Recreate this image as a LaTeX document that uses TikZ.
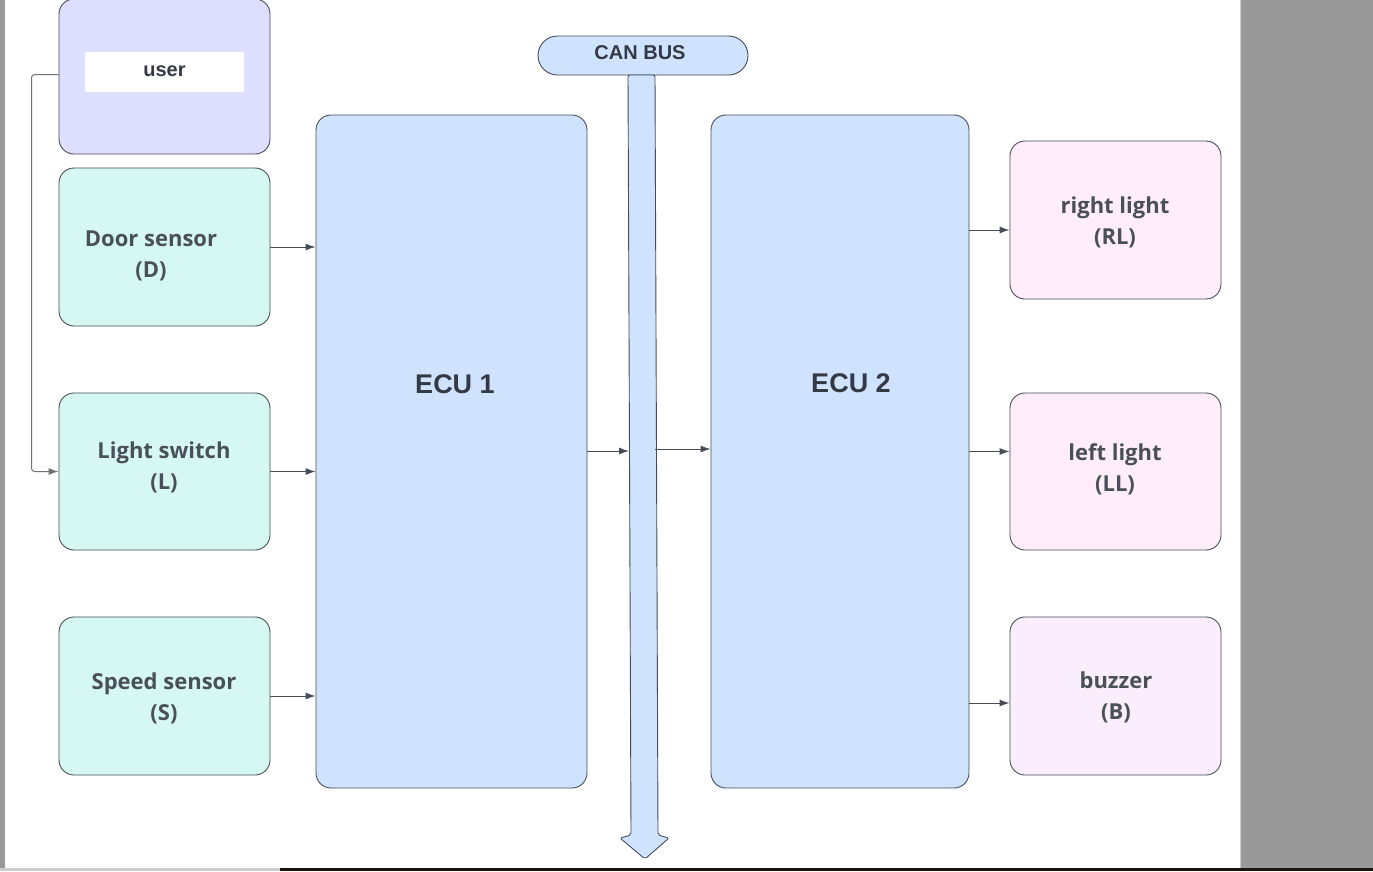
\documentclass[tikz,border=0pt]{standalone}
\usepackage{fontspec}
\setmainfont{Open Sans}
\newfontfamily\arialfont{Liberation Sans}
\usetikzlibrary{arrows.meta}
\definecolor{userfill}{HTML}{DEDEFF}
\definecolor{sensfill}{HTML}{D5F8F2}
\definecolor{ecufill}{HTML}{CFE2FE}
\definecolor{lampfill}{HTML}{FFEEFA}
\definecolor{buzzfill}{HTML}{FAEEFD}
\definecolor{edge}{HTML}{464D57}
\definecolor{txt}{HTML}{4A5058}
\definecolor{ecutxt}{HTML}{333A45}
\definecolor{pagegray}{HTML}{999999}
\begin{document}
\begin{tikzpicture}[x=1pt,y=-1pt]
    \tikzstyle{box}=[draw=edge, line width=0.9pt, rounded corners=15pt, inner sep=0pt, minimum width=211pt, minimum height=158pt]
    \tikzstyle{ecu}=[box, fill=ecufill, minimum height=673pt]
    \tikzstyle{lbl}=[text=txt, align=center, font=\bfseries\fontsize{22}{31}\selectfont]
    \tikzstyle{ecul}=[text=ecutxt, font=\arialfont\bfseries\fontsize{27}{30}\selectfont]
    \tikzstyle{marr}=[draw=edge, line width=1pt, -{Latex[length=10pt,width=7pt]}]

    \useasboundingbox (0,0) rectangle (1373,871);
    \fill[white] (0,0) rectangle (1373,871);
    \fill[pagegray] (0,0) rectangle (5,871);
    \fill[pagegray] (1241,0) rectangle (1373,871);
    \fill[black!20] (1240,0) rectangle (1241,871);
    \fill[black!20] (0,868) rectangle (280,871);
    \fill[black!85!brown] (280,868) rectangle (1373,871);

    \node[box, fill=userfill, minimum height=155pt] (user) at (164.5,76.5) {};
    \node[fill=white, rounded corners=2pt, minimum width=159pt, minimum height=40pt, inner sep=0pt] (userbox) at (164.5,72) {};
    \node[text=ecutxt, font=\arialfont\bfseries\fontsize{20}{24}\selectfont] (usert) at (164.5,71) {user};

    \node[box, fill=sensfill] (door) at (164.5,247) {};
    \node[box, fill=sensfill, minimum height=157pt] (light) at (164.5,471.5) {};
    \node[box, fill=sensfill] (speed) at (164.5,696) {};
    \node[lbl] (doort) at (151,256) {Door sensor\\(D)};
    \node[lbl] (lightt) at (164,467) {Light switch\\(L)};
    \node[lbl] (speedt) at (164,698) {Speed sensor\\(S)};

    \node[ecu, minimum width=271pt] (ecu1) at (451.5,451.5) {};
    \node[ecu, minimum width=258pt] (ecu2) at (840,451.5) {};
    \node[ecul] (ecu1t) at (455,384) {ECU 1};
    \node[ecul] (ecu2t) at (851,383) {ECU 2};

    \node[box, fill=ecufill, minimum width=210pt, minimum height=39pt, rounded corners=19.5pt] (can) at (643,55.5) {};
    \node[text=ecutxt, font=\arialfont\bfseries\fontsize{20}{24}\selectfont] (cant) at (640,53) {CAN BUS};
    \draw[draw=edge, line width=0.9pt, fill=ecufill, rounded corners=2pt] (628,75) -- (655,75) -- (658,835) -- (669,838) -- (645,859) -- (620,838) -- (631,835) -- cycle;
    \coordinate (busin) at (629,451);
    \coordinate (busout) at (655,449);

    \node[box, fill=lampfill] (rl) at (1115.5,220) {};
    \node[box, fill=lampfill, minimum height=157pt] (ll) at (1115.5,471.5) {};
    \node[box, fill=buzzfill] (buz) at (1115.5,696) {};
    \node[lbl] (rlt) at (1115,222.5) {right light\\(RL)};
    \node[lbl] (llt) at (1115,469.5) {left light\\(LL)};
    \node[lbl] (buzt) at (1116,697.5) {buzzer\\(B)};

    \draw[marr] (door.east) -- (ecu1.west |- door.east);
    \draw[marr] (light.east) -- (ecu1.west |- light.east);
    \draw[marr] (speed.east) -- (ecu1.west |- speed.east);
    \draw[marr] (ecu1.east |- busin) -- (busin);
    \draw[marr] (busout) -- (ecu2.west |- busout);

    \coordinate (rlin) at ([yshift=-10pt]rl.west);
    \coordinate (llin) at ([yshift=20pt]ll.west);
    \coordinate (buzin) at ([yshift=-7pt]buz.west);
    \draw[marr] (ecu2.east |- rlin) -- (rlin);
    \draw[marr] (ecu2.east |- llin) -- (llin);
    \draw[marr] (ecu2.east |- buzin) -- (buzin);

    \draw[marr, draw=black!55, rounded corners=3pt] ([yshift=2pt]user.west) -- ++(-27,0) |- (light.west);
\end{tikzpicture}
\end{document}
